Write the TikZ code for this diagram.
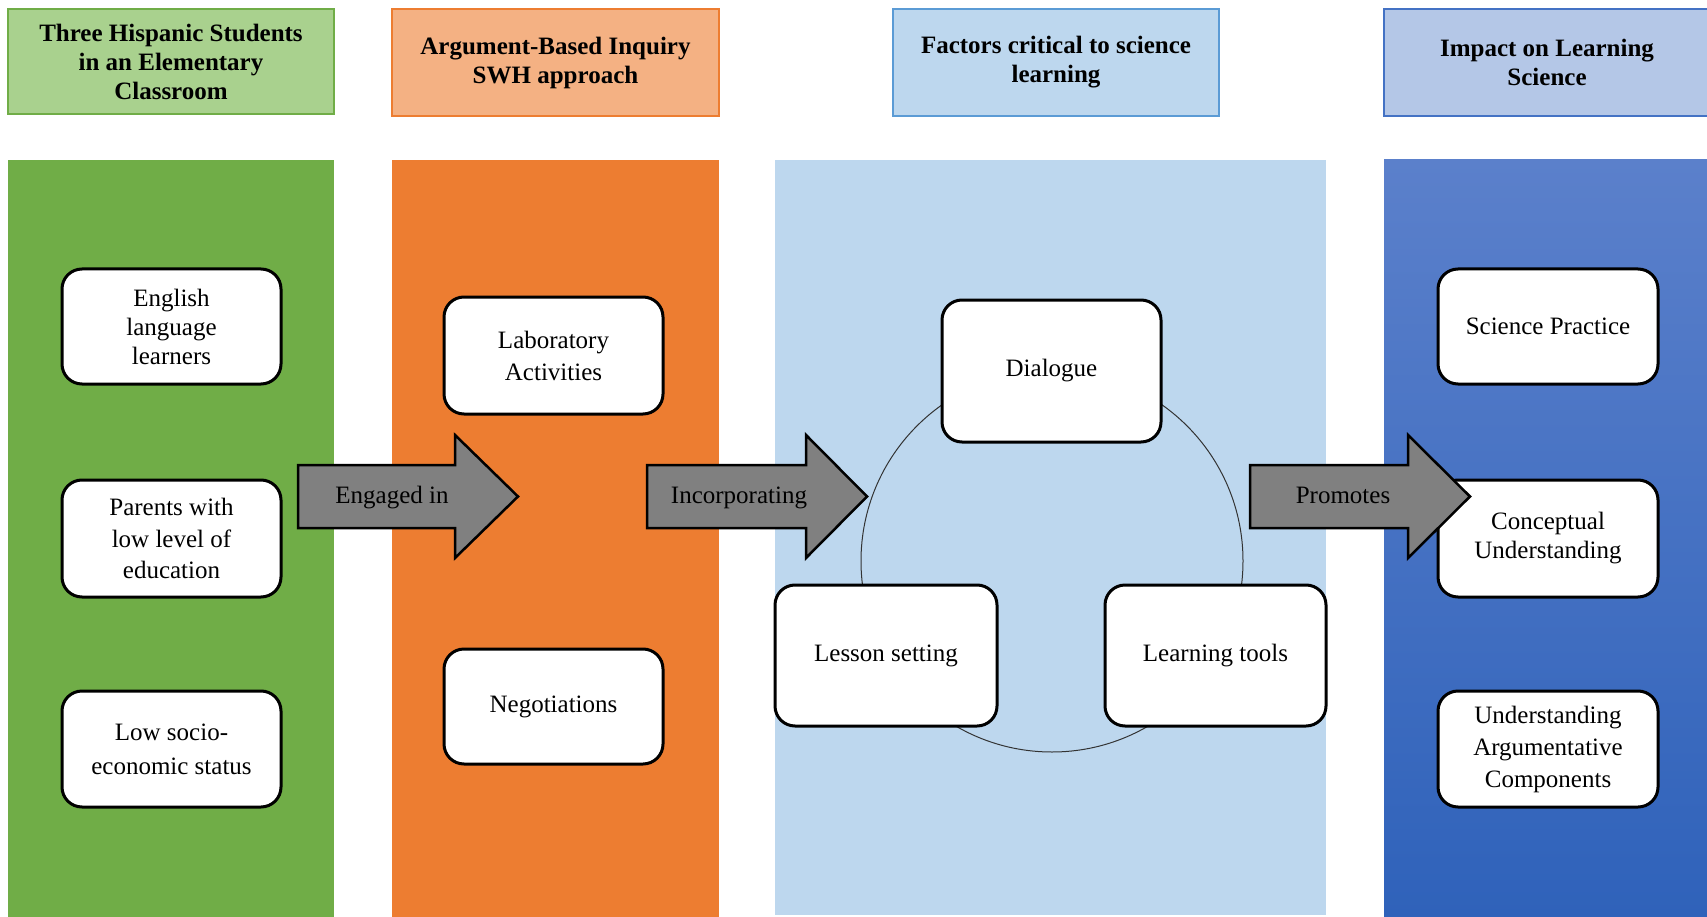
\documentclass[tikz,border=0pt]{standalone}
\usepackage{fontspec}
\setmainfont{Liberation Serif}
\usetikzlibrary{shadings}
\definecolor{gcol}{HTML}{70AD47}
\definecolor{ghead}{HTML}{A9D18E}
\definecolor{ocol}{HTML}{ED7D31}
\definecolor{ohead}{HTML}{F4B183}
\definecolor{lbcol}{HTML}{BDD7EE}
\definecolor{lbedge}{HTML}{5B9BD5}
\definecolor{bhead}{HTML}{B4C7E7}
\definecolor{bedge}{HTML}{4472C4}
\definecolor{btop}{HTML}{5B80CB}
\definecolor{bbot}{HTML}{2F62BA}
\definecolor{arrgray}{HTML}{808080}
\tikzset{
  headbox/.style={draw, line width=1.2pt, inner sep=0pt, align=center,
    font=\fontsize{25}{29}\selectfont\bfseries},
  itembox/.style={draw=black, fill=white, line width=3pt, rounded corners=20pt,
    inner sep=0pt, align=center, font=\fontsize{25}{29}\selectfont},
  blockarrow/.style={draw=black, fill=arrgray, line width=2.5pt, line join=miter},
  arrlabel/.style={font=\fontsize{25}{29}\selectfont, inner sep=0pt, anchor=base},
  ring/.style={draw=black!80, line width=1pt}
}
\begin{document}
\begin{tikzpicture}[x=1pt,y=-1pt]
\useasboundingbox (0,0) rectangle (1707,917);
\fill[white] (0,0) rectangle (1707,917);
% headers
\node[headbox, draw=gcol, fill=ghead, minimum width=326pt, minimum height=105pt] (h1) at (171,61.5) {Three Hispanic Students\\in an Elementary\\Classroom};
\node[headbox, draw=ocol, fill=ohead, minimum width=327pt, minimum height=107pt] (h2) at (555.5,62.5) {Argument-Based Inquiry\\SWH approach};
\node[headbox, draw=lbedge, fill=lbcol, minimum width=326pt, minimum height=107pt] (h3) at (1056,62.5) {Factors critical to science\\learning};
\node[headbox, draw=bedge, fill=bhead, minimum width=326pt, minimum height=107pt] (h4) at (1547,62.5) {Impact on Learning\\Science};
% columns
\fill[gcol] (7.6,160) rectangle (334,917);
\fill[ocol] (392,160) rectangle (719,917);
\fill[lbcol] (775,160) rectangle (1326,915);
\shade[top color=btop, bottom color=bbot] (1384,160) rectangle (1707,917);
% ring
\draw[ring] (1052,561) circle (191);
% left column boxes
\node[itembox, minimum width=219pt, minimum height=115pt] (b1) at (171.5,326.5) {English\\language\\learners};
\node[itembox, minimum width=219pt, minimum height=117pt, font=\fontsize{25}{31.5}\selectfont] (b2) at (171.5,538.5) {Parents with\\low level of\\education};
\node[itembox, minimum width=219pt, minimum height=116pt, font=\fontsize{25}{34}\selectfont] (b3) at (171.5,749) {Low socio-\\economic status};
% orange column boxes
\node[itembox, minimum width=219pt, minimum height=117pt, font=\fontsize{25}{32}\selectfont] (o1) at (553.5,355.5) {Laboratory\\Activities};
\node[itembox, minimum width=219pt, minimum height=115pt] (o2) at (553.5,706.5) {Negotiations};
% centre boxes
\node[itembox, minimum width=219pt, minimum height=142pt] (c1) at (1051.5,371) {Dialogue};
\node[itembox, minimum width=222pt, minimum height=141pt] (c2) at (886,655.5) {Lesson setting};
\node[itembox, minimum width=221pt, minimum height=141pt] (c3) at (1215.5,655.5) {Learning tools};
% right column boxes
\node[itembox, minimum width=220pt, minimum height=115pt] (r1) at (1548,326.5) {Science Practice};
\node[itembox, minimum width=220pt, minimum height=117pt] (r2) at (1548,538.5) {Conceptual\\Understanding};
\node[itembox, minimum width=220pt, minimum height=116pt, font=\fontsize{25}{32}\selectfont] (r3) at (1548,749) {Understanding\\Argumentative\\Components};
% block arrows
\draw[blockarrow] (298,465) -- (455,465) -- (455,435) -- (518,496.5) -- (455,558) -- (455,528) -- (298,528) -- cycle;
\node[arrlabel] (a1) at (392,503) {Engaged in};
\draw[blockarrow] (647,465) -- (806,465) -- (806,435) -- (867,496.5) -- (806,558) -- (806,528) -- (647,528) -- cycle;
\node[arrlabel] (a2) at (739,503) {Incorporating};
\draw[blockarrow] (1250,465) -- (1408,465) -- (1408,435) -- (1470,496.5) -- (1408,558) -- (1408,528) -- (1250,528) -- cycle;
\node[arrlabel] (a3) at (1343,503) {Promotes};
\end{tikzpicture}
\end{document}
